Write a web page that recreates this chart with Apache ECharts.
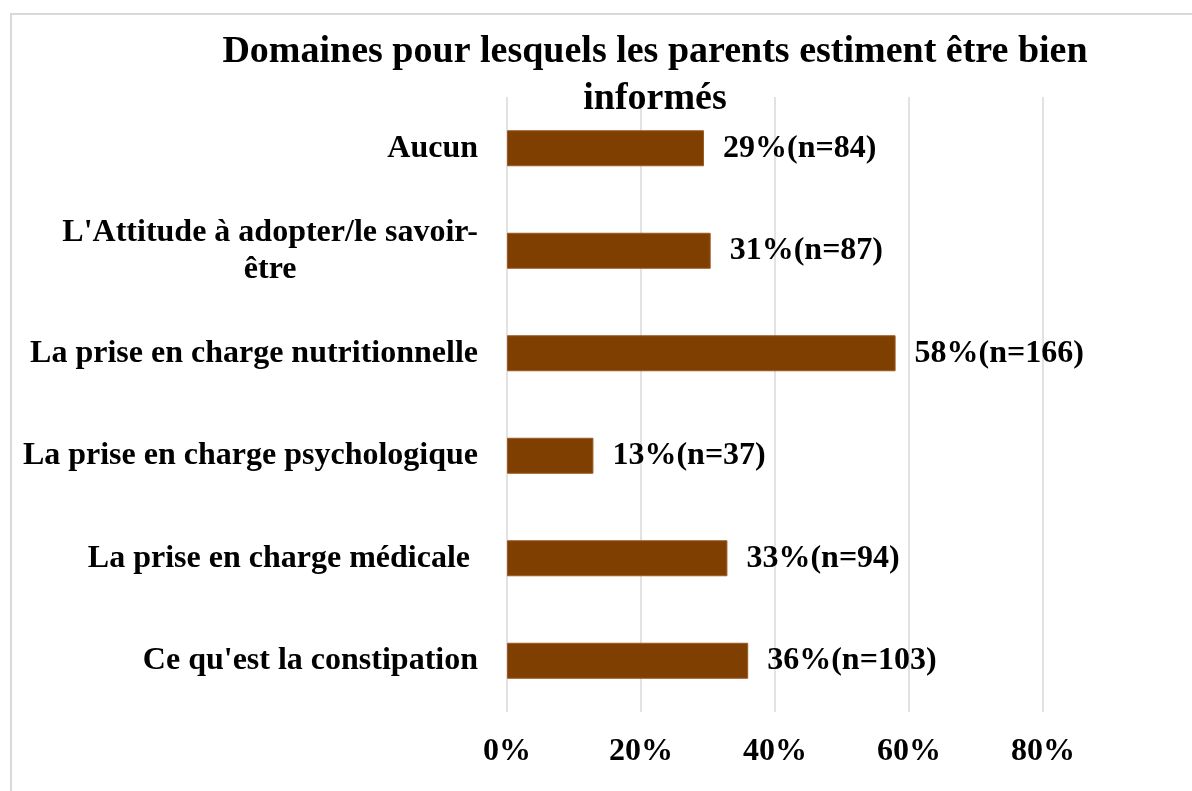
<!DOCTYPE html>
<html>
<head>
<meta charset="utf-8">
<script src="https://cdn.jsdelivr.net/npm/echarts@6/dist/echarts.min.js"></script>
<style>
  html, body { margin: 0; padding: 0; background: #fff; overflow: hidden; }
  #frame { position: absolute; left: 10px; top: 13px; width: 1300px; height: 900px; border: 2px solid #d9d9d9; box-sizing: border-box; }
  #chart { position: absolute; left: 0; top: 0; width: 1192px; height: 791px; }
</style>
</head>
<body>
<div id="frame"></div>
<div id="chart"></div>
<script>
const categories = [
  'Aucun',
  "L'Attitude à adopter/le savoir-\nêtre",
  'La prise en charge nutritionnelle',
  'La prise en charge psychologique',
  'La prise en charge médicale ',
  "Ce qu'est la constipation",
]
const barValues = [29.4, 30.4, 58.0, 12.9, 32.9, 36.0]
const labelPct = [29, 31, 58, 13, 33, 36]
const counts = [84, 87, 166, 37, 94, 103]
const xTicks = [0, 20, 40, 60, 80]

const font = 'Liberation Serif, Times New Roman, serif'

const chart = echarts.init(document.getElementById('chart'))

chart.setOption({
  animation: false,
  title: {
    text: 'Domaines pour lesquels les parents estiment être bien\ninformés',
    left: 655,
    top: 29,
    padding: 0,
    textAlign: 'center',
    textStyle: { fontFamily: font, fontSize: 38, fontWeight: 'bold', color: '#000', lineHeight: 47 },
  },
  grid: { left: 507, right: 149, top: 97, bottom: 79 },
  xAxis: {
    type: 'value',
    min: xTicks[0],
    max: xTicks[xTicks.length - 1],
    interval: 20,
    axisLine: { show: false },
    axisTick: { show: false },
    axisLabel: {
      margin: 24,
      formatter: '{value}%',
      fontFamily: font,
      fontSize: 32,
      fontWeight: 'bold',
      color: '#000',
    },
    splitLine: { lineStyle: { color: '#d9d9d9', width: 1.5 } },
  },
  yAxis: {
    type: 'category',
    inverse: true,
    data: categories,
    axisLine: { show: false },
    axisTick: { show: false },
    axisLabel: {
      margin: 29,
      formatter: (value) => value.split('\n').map((s) => '{c|' + s + '}').join('\n'),
      rich: {
        c: { fontFamily: font, fontSize: 32, fontWeight: 'bold', color: '#000', lineHeight: 37, align: 'center' },
      },
    },
  },
  series: [
    {
      type: 'bar',
      data: barValues,
      barWidth: 36,
      itemStyle: { color: '#7f3f00', borderColor: '#9c5a22', borderWidth: 1 },
      label: {
        show: true,
        position: 'right',
        distance: 19,
        formatter: (p) => labelPct[p.dataIndex] + '%(n=' + counts[p.dataIndex] + ')',
        fontFamily: font,
        fontSize: 32,
        fontWeight: 'bold',
        color: '#000',
      },
    },
  ],
})
</script>
</body>
</html>
